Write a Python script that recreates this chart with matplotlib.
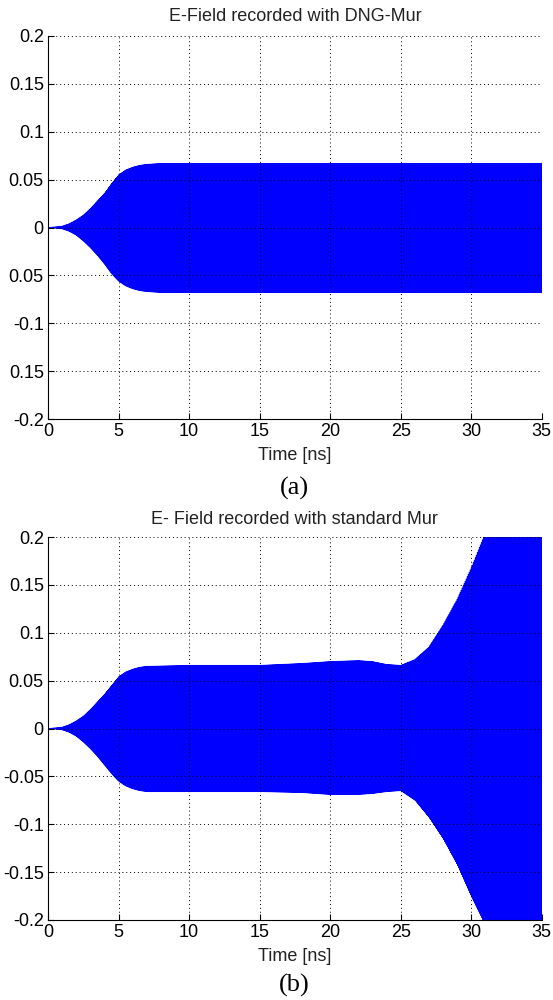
import numpy as np
import matplotlib.pyplot as plt

# Envelope of the recorded E-field (ns, field)
t_env_a = [0, 1, 1.5, 2, 2.5, 3, 3.5, 4, 4.5, 5, 5.5, 6, 6.5, 7, 8, 35]
upper_a = [0, 0.0015, 0.004, 0.008, 0.013, 0.02, 0.028, 0.036, 0.046, 0.055,
           0.060, 0.063, 0.065, 0.066, 0.067, 0.067]
lower_a = [0, -0.0015, -0.004, -0.008, -0.014, -0.021, -0.029, -0.038, -0.048, -0.056,
           -0.061, -0.064, -0.066, -0.067, -0.068, -0.068]

t_env_b = [0, 1, 1.5, 2, 2.5, 3, 3.5, 4, 4.5, 5, 5.5, 6, 6.5, 7, 10, 15, 18, 20,
           22, 23, 24, 25, 26, 27, 28, 29, 30, 31, 33, 35]
upper_b = [0, 0.0015, 0.004, 0.008, 0.013, 0.02, 0.028, 0.036, 0.045, 0.054,
           0.059, 0.062, 0.064, 0.065, 0.066, 0.066, 0.068, 0.070,
           0.071, 0.070, 0.067, 0.066, 0.072, 0.085, 0.108, 0.135, 0.168, 0.205,
           0.28, 0.36]
lower_b = [0, -0.0015, -0.004, -0.008, -0.014, -0.021, -0.029, -0.038, -0.047, -0.055,
           -0.060, -0.063, -0.065, -0.066, -0.066, -0.066, -0.067, -0.069,
           -0.069, -0.068, -0.066, -0.065, -0.075, -0.093, -0.115, -0.142, -0.175,
           -0.205, -0.28, -0.36]

# Carrier and sampling of the recorded probe
f_carrier = 14.0            # GHz
samples_per_cycle = 12
dt = 1 / (f_carrier * samples_per_cycle)   # ns
t_end = 35.0

titles = ['E-Field recorded with DNG-Mur', 'E- Field recorded with standard Mur']
captions = ['(a)', '(b)']
xticks = [0, 5, 10, 15, 20, 25, 30, 35]
yticks = [-0.2, -0.15, -0.1, -0.05, 0, 0.05, 0.1, 0.15, 0.2]
# the top panel's labels are cut at the left edge in the original
ylabels_a = ['-0.2', '0.15', '-0.1', '0.05', '0', '0.05', '0.1', '0.15', '0.2']
ylabels_b = ['-0.2', '-0.15', '-0.1', '-0.05', '0', '0.05', '0.1', '0.15', '0.2']


def field(t_env, up, lo):
    n = np.arange(int(round(t_end / dt)) + 1)
    t = n * dt
    u = np.interp(t, t_env, up)
    l = np.interp(t, t_env, lo)
    mid = (u + l) / 2
    amp = (u - l) / 2
    return t, mid + amp * np.cos(2 * np.pi * n / samples_per_cycle)


plt.rcParams['font.family'] = ['Liberation Sans', 'DejaVu Sans']
fig = plt.figure(figsize=(5.53, 10), dpi=100)

panels = [
    (0.581, t_env_a, upper_a, lower_a, ylabels_a, 11),
    (0.080, t_env_b, upper_b, lower_b, ylabels_b, 9),
]
caption_y = [0.512, 0.015]

for i, (bottom, te, up, lo, ylab, tpad) in enumerate(panels):
    ax = fig.add_axes([0.0868, bottom, 0.893, 0.383])
    t, e = field(te, up, lo)
    ax.plot(t, e, color=(0, 0, 1), lw=0.6)
    ax.set_xlim(0, 35)
    ax.set_ylim(-0.2, 0.2)
    ax.set_xticks(xticks)
    ax.set_xticklabels([str(x) for x in xticks])
    ax.set_yticks(yticks)
    ax.set_yticklabels(ylab)
    ax.tick_params(direction='in', length=4, width=0.8, labelsize=13, pad=3,
                   colors='black')
    ax.spines['top'].set_visible(False)
    ax.spines['right'].set_visible(False)
    ax.grid(True, linestyle=(0, (1, 3)), color='black', linewidth=0.7)
    ax.set_axisbelow(False)
    ax.set_title(titles[i], fontsize=13, pad=tpad, color='#222222')
    ax.set_xlabel('Time [ns]', fontsize=13, labelpad=5, color='#222222')
    fig.text(0.533, caption_y[i], captions[i], ha='center', va='center',
             fontsize=19, family='Liberation Serif')

fig.savefig('out.png', dpi=100)
